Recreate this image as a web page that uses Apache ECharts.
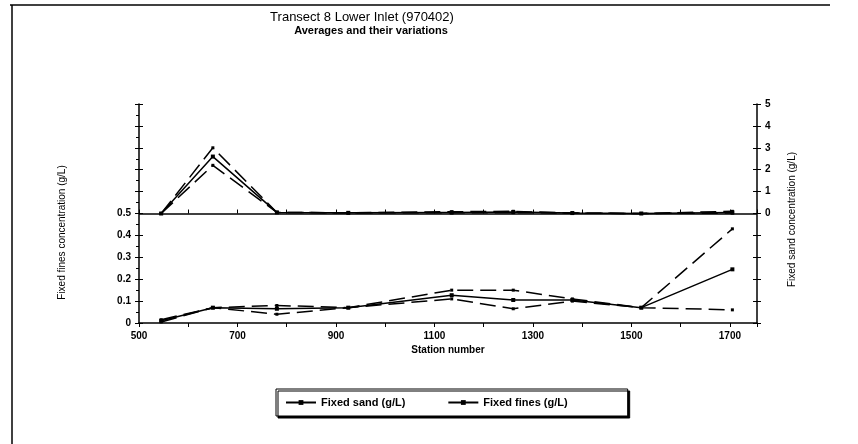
<!DOCTYPE html>
<html>
<head>
<meta charset="utf-8">
<script src="https://cdn.jsdelivr.net/npm/echarts@6/dist/echarts.min.js"></script>
<style>
  html, body { margin: 0; padding: 0; background: #fff; }
  #chartContainer { width: 858px; height: 444px; }
</style>
</head>
<body>
<div id="chartContainer"></div>
<script>
// station numbers along the transect
var stations = [545, 650, 780, 925, 1135, 1260, 1380, 1520, 1705];

// fixed sand (g/L) - average and its variation
var sandAvg = [0, 2.6, 0.05, 0.03, 0.05, 0.07, 0.02, 0, 0.05];
var sandHigh = [0, 3.0, 0.05, 0.03, 0.08, 0.1, 0.02, 0, 0.1];
var sandLow = [0, 2.2, 0.05, 0.03, 0.03, 0.04, 0.02, 0, 0.02];

// fixed fines (g/L) - average and its variation
var finesAvg = [0.01, 0.07, 0.065, 0.07, 0.127, 0.105, 0.105, 0.07, 0.245];
var finesHigh = [0.015, 0.07, 0.08, 0.07, 0.15, 0.15, 0.11, 0.07, 0.43];
var finesLow = [0.005, 0.07, 0.04, 0.07, 0.11, 0.065, 0.1, 0.07, 0.06];

var FONT = "Liberation Sans, Arial, sans-serif";
var CHART;

function pairs(values) {
  return stations.map((x, i) => [x, values[i]]);
}

function avgSeries(name, values, yIdx) {
  return {
    name: name,
    type: "line",
    yAxisIndex: yIdx,
    data: pairs(values),
    symbol: "rect",
    symbolSize: 4,
    itemStyle: { color: "#000" },
    lineStyle: { color: "#000", width: 1.5 },
    z: 3,
  };
}

function varSeries(name, values, yIdx) {
  return {
    name: name,
    type: "line",
    yAxisIndex: yIdx,
    data: pairs(values),
    symbol: "rect",
    symbolSize: 3,
    itemStyle: { color: "#000" },
    lineStyle: { color: "#000", width: 1.5, type: [16, 7] },
    z: 2,
  };
}

var CHART_OPTION = {
  animation: false,
  backgroundColor: "#fff",
  title: [
    {
      text: "Transect 8 Lower Inlet (970402)",
      left: 357,
      top: 6,
      textAlign: "center",
      textStyle: { fontFamily: FONT, fontSize: 13, fontWeight: "normal", color: "#000" },
    },
    {
      text: "Averages and their variations",
      left: 366,
      top: 20,
      textAlign: "center",
      textStyle: { fontFamily: FONT, fontSize: 11, fontWeight: "bold", color: "#000" },
    },
  ],
  legend: {
    data: ["Fixed sand (g/L)", "Fixed fines (g/L)"],
    left: 276,
    top: 389,
    orient: "horizontal",
    padding: [8, 60, 8, 9],
    itemGap: 42,
    itemWidth: 30,
    itemHeight: 6,
    borderColor: "#000",
    borderWidth: 1,
    borderRadius: 0,
    backgroundColor: "#fff",
    shadowColor: "#000",
    shadowOffsetX: 2,
    shadowOffsetY: 2,
    shadowBlur: 0,
    textStyle: { fontFamily: FONT, fontSize: 11, fontWeight: "bold", color: "#000" },
  },
  grid: {
    left: 139,
    right: 101,
    top: 104,
    bottom: 121,
  },
  xAxis: [
    {
      type: "value",
      min: 500,
      max: 1755,
      interval: 100,
      name: "Station number",
      nameLocation: "middle",
      nameGap: 22,
      nameTextStyle: { fontFamily: FONT, fontSize: 10, fontWeight: "bold", color: "#000" },
      axisLine: { lineStyle: { color: "#000", width: 1.5 } },
      axisTick: { show: true, length: 4, lineStyle: { color: "#000" } },
      splitLine: { show: false },
      axisLabel: {
        fontFamily: FONT,
        fontSize: 10,
        fontWeight: "bold",
        color: "#000",
        margin: 8,
        formatter: (v) => ((v - 500) % 200 === 0 && v <= 1700 ? String(v) : ""),
      },
    },
    {
      type: "value",
      min: 500,
      max: 1755,
      interval: 100,
      position: "bottom",
      axisLine: { show: false },
      axisTick: { show: true, inside: true, length: 4, lineStyle: { color: "#000" } },
      axisLabel: { show: false },
      splitLine: { show: false },
    },
  ],
  yAxis: [
    {
      type: "value",
      position: "left",
      min: 0,
      max: 1,
      interval: 0.1,
      name: "Fixed fines concentration (g/L)",
      nameLocation: "middle",
      nameRotate: 90,
      nameGap: 72,
      nameTextStyle: { fontFamily: FONT, fontSize: 10, color: "#000", padding: [0, 38, 0, 0] },
      axisLine: { show: true, lineStyle: { color: "#000", width: 1.5 } },
      axisTick: { show: true, length: 4, lineStyle: { color: "#000" } },
      minorTick: { show: true, splitNumber: 2, length: 3, lineStyle: { color: "#000" } },
      splitLine: { show: false },
      axisLabel: {
        fontFamily: FONT,
        fontSize: 10,
        fontWeight: "bold",
        color: "#000",
        margin: 8,
        formatter: (v) => (v <= 0.5001 ? String(Math.round(v * 10) / 10) : ""),
      },
    },
    {
      type: "value",
      position: "right",
      min: -5,
      max: 5,
      interval: 1,
      name: "Fixed sand concentration (g/L)",
      nameLocation: "middle",
      nameRotate: 90,
      nameGap: 30,
      nameTextStyle: { fontFamily: FONT, fontSize: 10, color: "#000", padding: [0, 12, 0, 0] },
      axisLine: { show: true, lineStyle: { color: "#000", width: 1.5 } },
      axisTick: { show: true, length: 4, lineStyle: { color: "#000" } },
      splitLine: { show: false },
      axisLabel: {
        fontFamily: FONT,
        fontSize: 10,
        fontWeight: "bold",
        color: "#000",
        margin: 8,
        formatter: (v) => (v >= 0 ? String(v) : ""),
      },
    },
    {
      type: "value",
      position: "left",
      min: 0,
      max: 1,
      interval: 0.1,
      axisLine: { show: false },
      axisTick: { show: true, inside: true, length: 4, lineStyle: { color: "#000" } },
      axisLabel: { show: false },
      splitLine: { show: false },
    },
    {
      type: "value",
      position: "right",
      min: -5,
      max: 5,
      interval: 1,
      axisLine: { show: false },
      axisTick: { show: true, inside: true, length: 4, lineStyle: { color: "#000" } },
      axisLabel: { show: false },
      splitLine: { show: false },
    },
  ],
  series: [],
  graphic: [
    {
      type: "line",
      shape: { x1: 10, y1: 5, x2: 830, y2: 5 },
      style: { stroke: "#000", lineWidth: 1.5 },
    },
    {
      type: "line",
      shape: { x1: 12, y1: 5, x2: 12, y2: 444 },
      style: { stroke: "#000", lineWidth: 1.5 },
    },
  ],
};

window.onload = (_) => {
  CHART = echarts.init(document.getElementById("chartContainer"), null, { renderer: "canvas" });

  var sand = avgSeries("Fixed sand (g/L)", sandAvg, 1);
  // zero line of the sand panel
  sand.markLine = {
    silent: true,
    symbol: "none",
    label: { show: false },
    lineStyle: { color: "#000", width: 1.5, type: "solid" },
    data: [{ yAxis: 0 }],
  };

  CHART_OPTION.series = [
    sand,
    varSeries("sand high", sandHigh, 1),
    varSeries("sand low", sandLow, 1),
    avgSeries("Fixed fines (g/L)", finesAvg, 0),
    varSeries("fines high", finesHigh, 0),
    varSeries("fines low", finesLow, 0),
  ];
  CHART.setOption(CHART_OPTION);
};
</script>
</body>
</html>
